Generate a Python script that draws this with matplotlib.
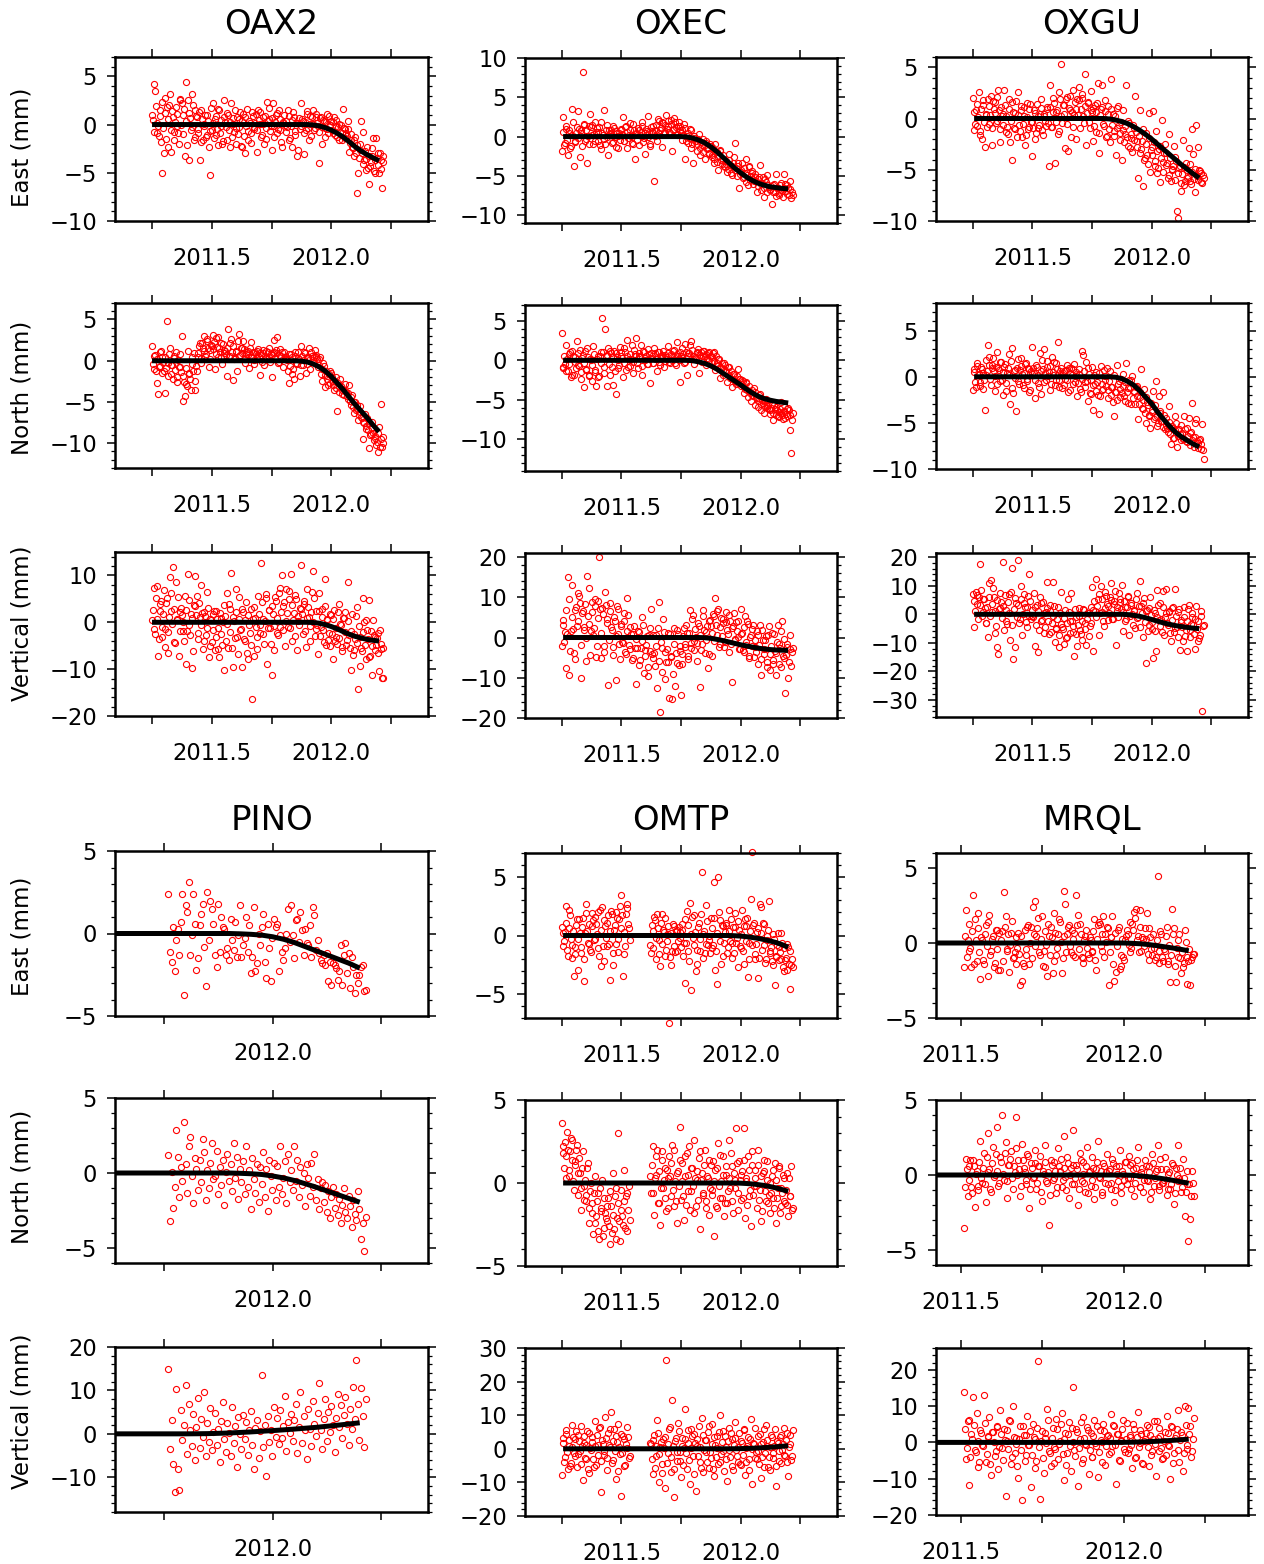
import numpy as np
import matplotlib
matplotlib.use("Agg")
import matplotlib.pyplot as plt
from matplotlib.ticker import MultipleLocator, FuncFormatter

plt.rcParams['font.family'] = ['DejaVu Sans']

nan = float("nan")

# ---------------------------------------------------------------------------
# Station time series (mm).  Epochs: first sample (decimal year) + interval.
# Each component has a primary series and a second series ("_B") sampled
# half an interval later.
# ---------------------------------------------------------------------------
STATIONS = ["OAX2", "OXEC", "OXGU", "PINO", "OMTP", "MRQL"]
COMPONENTS = ["East (mm)", "North (mm)", "Vertical (mm)"]

OAX2_T0, OAX2_DT = 2011.25, 1 / 160
OXEC_T0, OXEC_DT = 2011.25, 1 / 160
OXGU_T0, OXGU_DT = 2011.25, 1 / 160
PINO_T0, PINO_DT = 2011.76, 1 / 280
OMTP_T0, OMTP_DT = 2011.25, 1 / 160
MRQL_T0, MRQL_DT = 2011.51, 1 / 180

OAX2_EAST = [
    1.0, 4.2, 3.5, -0.9, -0.2, 1.5, -1.8, -5.0, -3.0, 2.8,
    1.8, -2.3, 3.2, -2.8, 0.8, -0.8, 1.8, -0.2, -2.0, 2.5,
    2.2, 1.0, -3.3, 4.4, 2.5, -3.7, -0.6, 3.2, -1.6, 1.5,
    0.8, -0.9, -3.7, 1.5, -1.6, 0.1, -1.3, 1.0, -2.3, -5.2,
    -0.6, 2.2, 0.6, -1.1, -2.1, 1.5, -0.2, -2.0, 2.5, 0.3,
    -1.6, 1.0, -2.3, 2.2, 0.1, -0.8, -2.0, 0.8, -0.3, 1.3,
    -2.3, 1.1, -3.0, -0.2, -1.6, 0.4, -0.9, 1.3, -0.5, 0.2,
    -2.8, 1.5, 0.1, -1.3, 0.8, -2.0, -0.4, 2.3, 0.6, -0.7,
    -2.6, 2.2, -0.2, 1.0, -0.9, 1.5, -0.6, -2.3, 0.3, -0.1,
    0.4, 1.5, -1.6, -0.2, -2.3, 0.8, -1.1, -3.3, 0.2, -0.5,
    2.2, 0.4, -3.1, -0.6, 1.1, -1.6, 0.1, 0.8, 1.5, -0.4,
    1.1, -0.2, -4.0, 0.8, -2.0, 0.4, -0.4, 1.1, -0.9, 0.0,
    0.4, -0.9, 0.8, -0.2, -1.3, 0.1, -0.8, -1.6, 1.6, -0.5,
    -0.9, 0.4, -2.8, -1.6, -2.3, -3.3, -1.3, -7.1, -5.0, -2.0,
    0.4, -0.8, -3.7, -4.7, -2.3, -6.2, -4.3, -3.3, -1.4, -5.0,
    -1.4, -3.0, -5.0, -3.7, -6.6, -3.3]
OAX2_EAST_B = [
    0.5, -0.8, 1.9, 0.2, -1.2, 0.9, 2.3, -0.4, 1.2, -1.5,
    0.6, 2.0, -0.6, 1.4, -1.6, 0.3, 1.1, -0.9, 2.6, 0.0,
    -1.0, 1.6, 0.4, -2.1, 1.2, 0.7, -0.3, 2.0, -1.3, 0.9,
    -0.5, 1.3, -1.8, 0.6, -0.2, 1.0, -1.1, 0.4, -0.7, 1.7,
    0.2, -1.4, 0.9, -0.5, 1.6, -0.9, 0.5, -1.7, 0.8, -0.3,
    1.2, -0.6, 0.3, -1.3, 0.7, 1.5, -0.4, -1.0, 0.6, -2.2,
    0.4, -1.2, 0.8, 1.6, -0.7, 0.2, -1.9, 0.9, -0.3, 1.1,
    -0.6, 0.5, 1.3, -1.1, 0.1, 0.9, -1.5, 0.4, 1.7, -0.2,
    0.7, -1.3, 0.3, 1.2, -0.5, 0.6, -1.8, 0.2, 1.0, -0.8,
    -0.3, 0.9, -1.4, 0.5, 1.3, -0.7, 0.2, -2.6, 0.7, -0.2,
    0.6, -0.9, 0.3, 1.4, -0.4, 0.9, -1.2, 0.1, -0.6, 0.8,
    0.2, -0.8, 0.7, -0.3, 0.5, -1.3, 0.3, -0.5, 0.9, -0.1,
    -0.6, 0.3, -1.1, 0.5, -0.3, -1.6, 0.0, -0.9, -0.4, -1.4,
    -1.2, -0.5, -1.9, -1.0, -2.4, -1.6, -2.9, -2.1, -3.5, -2.6,
    -3.0, -4.1, -2.7, -3.6, -4.5, -3.3, -3.9, -2.4, -4.8, -3.7,
    -3.5, -4.2, -2.9, -4.6, -3.9]
OAX2_NORTH = [
    1.8, -1.0, 0.7, -2.7, -4.0, -0.6, 1.2, 0.4, -1.3, -3.9,
    4.8, -1.8, 1.5, -0.5, -2.2, 0.6, 1.1, -2.6, -0.8, 0.8,
    3.0, -4.9, -4.3, -2.8, 1.2, -1.6, -3.6, -0.4, 0.9, -2.4,
    -1.2, 0.5, 2.2, -0.3, 1.6, 3.0, 0.8, 2.4, -0.7, 1.3,
    1.8, 3.1, -1.0, 2.7, 0.4, 1.5, 2.2, -0.4, 0.9, 1.2,
    -1.8, 3.9, 0.6, 2.6, -2.3, 0.2, 1.0, -1.2, 3.3, 0.7,
    1.6, 2.4, -0.3, 0.8, 1.2, -0.9, 2.3, 0.5, -0.4, 1.1,
    0.3, 1.4, -1.7, 0.7, 0.9, -0.5, 1.2, 0.2, 1.6, -0.2,
    -2.0, 0.9, 2.5, 1.3, 2.9, -0.1, 0.6, 1.0, -0.8, 0.4,
    0.2, -1.3, -2.7, 0.8, -1.6, -2.2, 1.1, -0.4, 0.3, -1.9,
    1.8, -0.5, 1.0, -1.5, 0.3, 1.5, -1.0, 0.6, -0.2, 1.3,
    0.5, -0.8, 0.2, -1.6, -2.5, -0.6, -3.2, -1.8, -2.9, -1.2,
    -1.5, -2.4, -3.6, -2.0, -6.1, -3.1, -2.2, -4.0, -3.4, -2.8,
    -3.8, -4.6, -3.0, -5.4, -4.2, -6.3, -5.0, -5.8, -7.2, -5.5,
    -6.8, -9.5, -7.6, -8.3, -6.9, -10.6, -9.0, -7.4, -8.8, -9.4,
    -10.2, -11.1, -8.0, -5.2, -10.5, -9.2]
OAX2_NORTH_B = [
    -0.4, 0.6, -1.2, 0.2, -0.7, 1.0, -1.5, -0.2, 0.4, -0.9,
    -0.3, 0.8, -1.6, -0.5, 0.3, -1.1, -2.0, 0.1, -0.8, -1.4,
    -1.9, -2.6, -0.9, -3.1, -1.5, -2.2, 0.4, -1.2, -3.5, -0.6,
    0.9, 1.8, 0.3, 2.1, 1.2, 0.6, 2.6, 1.5, 0.2, 1.9,
    1.4, 2.3, 0.8, 1.7, 2.9, 1.1, 0.5, 2.0, 1.3, 0.7,
    1.6, 0.4, 2.1, 1.0, 1.8, 0.3, 1.2, 2.4, 0.6, 1.5,
    0.9, 1.4, 0.2, 1.1, 0.7, 1.6, 0.4, 1.0, 0.1, 0.8,
    1.2, 0.5, 0.9, -0.2, 1.3, 0.6, 0.3, 1.0, 0.4, 0.8,
    0.7, 1.1, 0.3, 0.9, -0.3, 1.4, 0.6, 0.2, 1.0, 0.5,
    0.1, 0.8, -0.6, 0.4, -1.0, 0.6, -0.3, 1.1, 0.2, -0.5,
    0.6, 0.1, 0.9, -0.4, 0.5, 0.2, 1.0, -0.2, 0.4, 0.7,
    0.2, -0.5, 0.5, -1.0, -0.3, -1.7, -1.2, -2.2, -1.6, -2.7,
    -2.0, -2.9, -2.4, -3.3, -2.7, -3.8, -3.1, -3.5, -4.2, -3.7,
    -4.3, -3.9, -4.9, -4.4, -5.6, -5.0, -6.0, -5.4, -6.6, -6.2,
    -6.9, -7.4, -6.5, -7.9, -8.4, -7.6, -8.9, -8.2, -9.6, -9.1,
    -9.9, -8.7, -10.4, -9.5, -10.0]
OAX2_UP = [
    0.5, 7.4, -2.6, 7.8, -7.1, 2.4, 4.5, -3.2, 6.9, -1.5,
    5.2, -6.6, 9.6, 2.5, 11.8, -4.2, 8.7, 0.8, -7.3, 2.2,
    1.5, -1.8, 5.6, -8.8, 10.4, -0.6, 1.8, -9.8, 3.7, 9.8,
    5.7, -3.6, 1.2, 7.9, -5.6, 2.3, -2.8, 6.4, -7.5, 0.6,
    -4.2, 1.8, -6.0, 2.4, -1.3, -7.5, 0.9, -4.8, -10.2, 1.4,
    6.2, -5.4, 2.8, 10.6, -9.6, 0.2, 7.0, -3.1, 5.3, -1.7,
    -9.5, 2.1, -4.0, 4.4, -7.8, -0.6, 2.9, -16.3, -7.3, 1.0,
    -5.6, 5.6, -2.2, 12.7, 0.8, -4.6, 5.2, -8.8, 2.6, -1.3,
    -11.3, 1.7, -6.0, 4.6, -2.3, 6.2, -0.9, 10.0, 3.4, -5.1,
    7.1, -1.0, 4.9, 10.2, -3.9, 1.9, 5.8, -6.0, 0.3, 3.1,
    12.2, -2.5, 4.0, -5.3, 7.1, 1.2, -0.8, 6.4, 11.0, -3.0,
    2.4, -6.7, 6.2, -1.1, 2.9, -4.2, 9.3, 0.6, -3.7, -5.0,
    1.6, -7.8, 2.7, -3.1, -4.7, 3.9, -0.3, -6.2, 0.9, 2.1,
    -4.9, 8.6, -2.8, -10.1, 1.7, -6.0, -3.6, 3.2, -14.3, -9.3,
    -5.5, 5.1, 0.1, -7.8, -1.6, 4.7, -7.3, -11.3, 0.4, -3.2,
    -4.9, -2.2, -10.3, -5.8, -11.9, -11.8]
OAX2_UP_B = [
    2.6, -1.4, 5.1, 0.6, -3.5, 3.8, -0.9, 1.7, -5.2, 4.2,
    -2.0, 1.2, 6.3, -0.4, 2.9, -4.5, 0.5, 5.5, -1.8, 3.1,
    0.1, -4.0, 2.6, -1.9, 4.8, -2.7, 0.9, -6.2, 3.5, 1.6,
    -2.3, 4.1, -0.6, 2.0, -3.9, 1.3, -1.2, 3.0, -5.0, 0.4,
    -1.7, 2.5, -3.2, 0.7, -5.8, 1.9, -2.6, 0.0, 3.6, -4.1,
    -0.3, 3.9, -2.0, -5.5, 1.1, -3.4, 2.2, -6.8, 0.6, -1.5,
    2.9, -3.6, 0.4, -6.5, 1.6, -2.2, -4.9, 0.8, 3.2, -1.0,
    -3.1, 1.8, -0.5, 4.3, -2.4, 0.2, 6.0, -1.3, 2.7, -4.6,
    3.5, -0.8, 5.4, 1.0, -2.8, 7.3, 2.1, -1.6, 4.4, 0.3,
    2.0, 6.6, -1.2, 3.7, 0.5, -3.0, 4.9, 1.4, -0.6, 2.8,
    1.8, 4.5, -1.9, 0.9, 3.3, -4.0, 2.2, 0.0, 5.1, -1.4,
    -0.6, 2.5, -3.0, 1.1, -1.7, 3.4, -4.8, 0.4, -2.3, 1.7,
    -2.6, 0.8, -4.1, -1.2, 2.2, -3.3, -0.5, -5.2, 1.0, -2.0,
    -3.7, 0.3, -5.4, -1.8, -6.9, -2.6, 1.4, -4.4, -0.8, -3.1,
    -6.2, -2.1, -4.8, 0.5, -3.5, -7.4, -1.9, -5.0, -2.8, -6.0,
    -3.3, -6.5, -1.6, -4.6, -5.5]

OXEC_EAST = [
    -1.8, 2.5, -0.8, 1.0, -2.3, 0.5, -1.2, 3.5, -3.7, -0.5,
    1.2, 3.2, -2.6, 0.8, 8.2, 1.5, -0.3, -3.4, 1.4, 2.9,
    0.2, -1.0, 1.8, 0.6, -0.5, 1.2, -1.6, 0.4, 3.4, -0.9,
    1.5, -2.4, 0.3, 0.9, -0.7, 1.1, -1.3, 0.5, 0.1, -0.4,
    0.8, 2.5, -0.6, 1.4, -1.5, 0.2, 0.9, -0.8, 1.6, -2.9,
    0.3, 1.1, -1.1, 0.6, 1.9, -0.2, -2.2, 0.7, 2.6, -0.9,
    1.2, 0.4, -5.6, 1.5, -0.6, 2.0, 0.9, -1.3, 1.7, 0.5,
    2.8, 1.3, 0.6, 2.1, -1.8, 1.0, 1.8, 0.2, 1.4, 0.8,
    0.5, -0.4, 1.6, -2.9, 0.1, -0.8, 1.0, -1.5, -3.3, -0.2,
    -0.6, -1.8, 0.3, -2.3, -1.1, -0.3, -2.9, -0.8, -1.5, -2.1,
    -1.2, -2.6, -3.4, -0.9, -2.0, -4.2, -1.8, -3.0, -2.4, -3.8,
    -3.1, -4.5, -2.2, -3.6, -4.9, -3.3, -0.8, -4.0, -3.7, -6.5,
    -4.2, -3.4, -5.2, -4.6, -2.9, -6.2, -3.8, -5.0, -4.4, -5.6,
    -4.8, -7.0, -5.4, -3.6, -6.0, -5.1, -7.7, -5.8, -4.9, -6.4,
    -6.8, -8.6, -6.2, -7.1, -4.7, -6.6, -7.4, -5.9, -6.9, -4.8,
    -6.0, -7.3, -6.5, -5.6, -7.8, -7.4]
OXEC_EAST_B = [
    0.6, -1.1, 1.3, -0.4, 0.9, -1.5, 0.2, 1.8, -0.7, 0.4,
    -0.2, 1.0, 0.5, -1.2, 1.6, -0.5, 0.8, 0.1, -0.9, 1.2,
    1.5, 0.3, -0.6, 1.1, 0.6, -1.1, 1.9, 0.2, -0.3, 0.8,
    -0.1, 0.9, 0.4, -0.8, 1.3, 0.0, 0.7, -1.4, 0.5, 1.0,
    0.3, -0.5, 1.2, 0.6, -0.2, 1.7, 0.1, -1.0, 0.9, 0.4,
    -0.4, 0.8, 0.2, 1.3, -0.7, 0.5, 1.0, -0.1, 0.6, -1.2,
    0.7, 1.4, 0.1, 0.9, 2.2, 0.4, 1.1, 1.8, 0.6, 1.5,
    1.0, 2.0, 0.5, 1.6, 0.9, 2.4, 1.2, 0.3, 1.9, 1.3,
    0.9, 0.2, 1.1, -0.6, 0.4, -0.2, 0.8, -1.0, 0.1, -0.5,
    -0.9, -0.3, -1.4, -0.7, -1.9, -1.2, -0.5, -1.6, -2.2, -1.0,
    -2.3, -1.5, -2.8, -2.0, -3.2, -2.5, -1.7, -3.5, -2.9, -3.9,
    -3.5, -4.1, -3.0, -4.6, -3.8, -2.6, -4.3, -5.0, -3.3, -4.7,
    -4.5, -5.3, -4.0, -5.8, -4.9, -3.9, -5.5, -4.6, -6.0, -5.1,
    -5.6, -6.3, -5.2, -6.8, -5.9, -6.5, -5.4, -7.1, -6.1, -6.7,
    -6.3, -7.0, -6.0, -7.5, -6.6, -7.2, -6.2, -6.8, -7.7, -6.5,
    -6.9, -6.2, -7.4, -6.7, -7.1]
OXEC_NORTH = [
    3.5, -1.0, -0.5, 1.9, -1.4, 0.8, -2.1, 1.2, -1.8, 0.4,
    2.4, -0.6, 1.3, -2.3, 0.7, -3.4, -1.2, 1.6, -2.0, 0.2,
    -2.6, 1.8, -1.5, -3.2, 0.5, -2.0, 1.1, 5.3, -0.8, 4.0,
    -3.3, 1.5, -1.9, 0.9, -3.1, 1.2, -4.2, 0.4, -1.0, 1.7,
    0.6, -2.1, 1.6, -1.2, 2.6, 0.2, -0.7, 1.9, -1.6, 0.8,
    2.8, -1.0, 0.5, 2.0, -1.8, 1.1, 0.3, -0.5, 1.4, -2.9,
    0.9, -0.3, 1.5, 0.2, -1.4, 1.0, -0.6, 0.7, 1.2, -0.1,
    0.4, 1.8, -0.2, 0.8, 0.1, 1.3, -0.4, 2.3, 0.5, -2.8,
    0.6, 1.6, -0.3, 2.1, -1.9, 0.9, 1.9, 2.4, 0.2, -0.5,
    0.3, 1.0, -1.6, 0.7, -0.2, 1.2, 0.5, -0.6, 0.9, 0.1,
    0.6, -0.4, 1.1, -1.2, -0.7, 0.2, -2.2, -1.0, -1.8, -0.3,
    -1.5, -2.8, -0.9, -2.2, -3.4, -1.7, -2.6, -3.0, -1.1, -2.4,
    -3.2, -2.5, -4.1, -3.6, -2.8, -4.6, -3.9, -5.2, -4.4, -3.5,
    -5.6, -4.8, -5.9, -4.2, -6.3, -5.4, -6.6, -4.9, -5.8, -6.1,
    -6.8, -5.5, -7.6, -6.2, -5.9, -7.0, -6.5, -5.3, -6.9, -6.4,
    -7.3, -6.2, -6.0, -8.8, -11.7, -6.6]
OXEC_NORTH_B = [
    -0.8, 0.5, -1.3, 0.2, -0.5, 1.1, -1.8, 0.6, -0.2, -1.0,
    0.9, -0.7, -1.5, 0.3, -0.4, 1.2, -1.1, 0.4, -1.9, 0.1,
    -0.6, 0.8, -1.2, 0.2, -2.1, 0.6, -0.3, 1.0, -1.6, 0.5,
    0.7, -0.5, 1.2, -0.9, 0.4, -1.3, 0.9, 0.0, -0.6, 1.1,
    0.3, -0.4, 1.0, 0.6, -0.9, 0.8, 0.2, -0.2, 1.3, 0.5,
    -0.3, 0.9, 0.4, -0.7, 1.2, 0.1, 0.6, -0.5, 0.8, 0.3,
    0.5, -0.4, 0.9, 0.2, 1.1, -0.2, 0.6, 0.3, -0.8, 0.7,
    0.2, 0.9, -0.3, 0.6, 1.2, 0.4, -0.6, 0.8, 0.1, 1.0,
    0.3, 0.8, -0.2, 1.1, 0.5, 0.9, 0.2, 1.3, 0.6, 0.4,
    0.9, 1.4, 0.7, 1.1, 0.5, 1.2, 0.8, 0.3, 1.0, 0.6,
    0.4, 0.9, -0.1, 0.5, -0.4, 0.2, -0.8, -0.3, -1.2, -0.6,
    -1.4, -0.9, -1.9, -1.3, -2.3, -1.7, -2.6, -2.0, -2.9, -2.4,
    -3.0, -2.6, -3.4, -2.9, -3.8, -3.3, -4.1, -3.7, -4.5, -4.0,
    -4.7, -5.1, -4.4, -5.5, -5.0, -5.8, -5.3, -6.0, -5.6, -6.3,
    -6.0, -6.6, -5.7, -6.9, -6.3, -7.2, -6.1, -6.7, -7.4, -6.4,
    -6.8, -7.1, -6.3, -6.9, -7.5]
OXEC_UP = [
    -2.1, 4.3, 1.4, -7.6, 15.0, -9.2, 1.5, 13.0, -3.8, 6.9,
    2.9, 11.0, 8.5, -10.1, 6.5, 1.8, -5.9, 15.2, 3.4, -4.3,
    8.9, 0.6, 7.8, -4.9, 9.1, 20.0, -5.0, 7.3, -2.1, 11.3,
    4.6, -11.8, 8.6, 2.7, -2.4, 5.2, -10.6, 7.8, 0.8, -5.3,
    3.4, -1.3, 6.1, -4.0, 9.8, -1.9, 2.6, -5.6, 0.9, -2.7,
    -11.6, 1.6, -6.8, -2.5, 5.2, -8.9, -3.2, 0.4, -9.5, 2.4,
    7.2, -5.1, -3.9, 0.7, -12.5, 8.7, -18.5, -2.6, 4.6, -10.3,
    -6.1, 1.1, -15.0, -4.9, -15.2, 2.4, -12.0, -6.4, 0.8, -3.3,
    -14.4, -6.7, 2.3, -2.4, 1.1, -4.6, 6.9, -1.3, 5.6, -3.1,
    0.2, -5.9, 2.9, -12.3, -1.5, 6.9, -3.8, 1.4, -7.6, 4.1,
    2.8, -4.7, 5.3, 9.7, 0.5, 7.2, -1.6, 4.9, 3.6, -2.4,
    6.4, 1.8, -3.7, 4.1, -11.0, 2.9, -0.5, 3.8, 0.2, -2.9,
    7.2, 1.1, -3.6, 5.4, -1.8, 3.3, -5.2, 0.7, 2.1, -4.8,
    -2.4, 1.7, -6.5, 3.1, -9.3, -0.7, -4.2, 0.4, -7.3, 2.8,
    -8.0, 1.2, -6.6, -3.4, -9.3, 3.0, -1.5, -7.4, 4.2, -5.2,
    -13.9, -2.4, -10.1, 0.5, -7.2, -2.6]
OXEC_UP_B = [
    3.2, -1.0, 6.8, 0.9, 9.5, -3.4, 5.0, 2.2, -5.3, 7.7,
    4.1, 10.2, -1.8, 6.0, 2.6, 8.4, -0.2, 5.3, 12.4, 1.5,
    6.3, 2.4, 9.6, -2.2, 4.8, 7.0, 1.2, 5.9, -3.6, 8.2,
    3.7, -0.6, 6.5, 1.9, -4.4, 4.2, 0.3, 7.1, -1.7, 2.8,
    -1.1, 4.0, -3.5, 1.7, 5.6, -2.8, 0.8, -5.1, 2.9, -0.4,
    -2.6, 1.4, -5.5, -0.8, 3.1, -4.7, -1.9, -7.4, 0.6, -3.3,
    -4.0, 0.5, -7.0, -2.1, 2.3, -5.9, -1.2, -8.6, 1.3, -3.6,
    -2.9, -6.2, 0.9, -4.5, -9.1, -1.5, -3.9, 1.9, -6.8, -2.0,
    -4.2, 0.3, -1.7, 3.2, -5.3, 1.0, -2.5, 4.6, -0.8, 2.1,
    -1.4, 3.6, 0.7, -3.0, 5.3, 1.8, -0.6, 2.9, -4.1, 4.4,
    1.2, 5.8, -0.9, 3.0, 6.7, -2.3, 2.5, 0.4, 4.6, -1.1,
    3.9, 0.8, 5.5, -1.6, 2.3, 6.1, -0.4, 1.6, 4.2, -2.8,
    0.9, -3.2, 2.6, -1.0, 4.0, -4.6, 0.2, -2.2, 3.1, -0.6,
    -3.6, 0.5, -1.8, -5.4, 1.9, -2.9, -0.7, -6.2, 0.6, -4.0,
    -2.1, -5.7, 0.8, -3.8, -1.0, -6.5, -2.7, 1.6, -4.6, -0.3,
    -4.4, -1.7, -6.0, -2.9, -3.6]

OXGU_EAST = [
    2.0, -1.1, 0.8, -0.7, 2.6, -1.6, -2.0, 1.3, -2.8, 0.3,
    1.9, -0.5, 2.2, -2.6, 0.9, 1.6, -0.2, 2.8, -2.3, 1.1,
    0.4, 2.8, -1.3, -0.8, 1.9, -2.3, -4.0, 0.6, -1.0, 1.7,
    2.6, -0.6, 1.2, -1.8, 0.2, -2.6, 1.5, -1.0, 0.9, -0.3,
    -3.7, 0.8, -2.0, 1.4, -0.9, 0.4, 1.9, -1.6, 0.2, -0.7,
    1.1, -4.6, 3.3, -0.8, 2.0, -4.3, 0.6, -1.5, 2.6, 5.3,
    -0.4, 1.3, -2.9, 2.1, -3.2, 0.8, -1.8, 2.8, 0.3, -2.0,
    1.9, 3.1, -0.9, 2.4, 0.2, 4.3, -2.6, 1.5, -0.3, 2.7,
    0.6, -2.2, 1.3, -1.3, 3.5, -3.4, 0.9, 3.3, -0.7, 1.8,
    -1.7, 1.2, -2.3, 3.9, 0.4, -1.2, -3.6, 1.0, -0.6, -2.1,
    -4.0, 0.8, -1.5, 3.3, -2.7, -0.4, -1.9, -3.3, -0.9, 2.2,
    -2.2, -5.8, 0.8, -3.0, -6.6, -4.0, -1.4, -3.6, 0.5, -5.2,
    -2.8, 0.7, -4.6, -1.2, -5.3, -3.0, -6.2, -0.1, -4.2, -2.5,
    -3.4, -5.8, -1.5, -6.1, -4.9, -2.7, -3.8, -9.0, -9.7, -4.6,
    -7.1, -2.1, -6.5, -4.3, -5.8, -2.9, -6.1, -1.0, -3.5, -7.2,
    -0.6, -2.8, -5.0, -5.3, -6.3, -5.8]
OXGU_EAST_B = [
    0.6, -0.5, 1.4, 0.1, -1.2, 0.9, 1.8, -0.3, 0.4, -0.8,
    1.2, 0.3, -0.9, 1.7, 0.5, -0.4, 2.1, 0.8, -1.0, 0.2,
    -0.6, 1.3, 0.2, -1.5, 0.9, -0.2, 1.6, -0.9, 0.5, -1.8,
    0.3, -1.2, 0.8, -0.5, 1.1, -1.6, 0.1, -0.8, 1.4, -0.3,
    -0.9, 0.5, -1.4, 0.2, -0.6, 1.0, -1.1, 0.4, -0.2, 0.9,
    -0.4, 1.1, -0.8, 0.6, 1.5, -0.3, 0.8, -1.2, 1.9, 0.2,
    1.3, 0.4, 1.9, -0.5, 1.0, 2.2, 0.6, -0.8, 1.6, 0.9,
    0.3, 1.8, 0.9, 2.0, -0.4, 1.2, 0.5, 1.6, -0.9, 0.8,
    1.0, -0.7, 0.6, 1.5, -1.4, 0.3, 1.1, -0.5, 0.7, -1.8,
    0.4, -1.0, 0.9, -0.6, -1.7, 0.2, -0.9, 1.2, -1.4, -0.3,
    -1.1, -2.3, -0.7, -1.8, -0.2, -2.9, -1.5, -0.6, -2.1, -1.3,
    -2.8, -1.7, -3.4, -2.2, -1.0, -3.9, -2.5, -4.4, -1.9, -3.1,
    -3.6, -2.3, -4.1, -3.2, -4.8, -2.7, -3.9, -5.2, -3.4, -4.5,
    -4.3, -5.5, -3.9, -5.0, -4.6, -6.0, -4.1, -5.3, -4.8, -6.3,
    -5.4, -4.7, -6.1, -5.0, -5.7, -4.4, -6.4, -5.2, -5.9, -4.9,
    -5.6, -6.0, -5.1, -6.2, -5.5]
OXGU_NORTH = [
    -1.4, 0.5, -1.1, 1.2, 0.3, -0.6, 0.8, -1.3, -3.6, 0.2,
    3.4, 2.1, -0.9, 1.3, 0.6, -1.5, 2.7, 0.9, -0.5, 1.6,
    -2.0, 1.1, -1.5, 0.4, 2.5, -3.0, 3.1, -1.8, 0.7, -3.7,
    1.9, -0.8, 2.0, 0.3, -1.2, 1.4, -0.5, 0.9, -1.6, 0.6,
    3.2, 0.4, -2.3, 1.1, -0.7, 2.6, -1.9, 0.8, 3.0, -0.4,
    1.7, 0.5, -1.4, 2.1, 0.2, -0.9, 1.5, 3.8, -0.3, 0.9,
    -1.2, 0.6, -0.2, 1.3, -1.7, 0.4, 0.9, -0.8, 1.4, 0.1,
    -2.1, 0.8, -1.3, 2.8, 2.4, -0.6, 1.6, -2.6, 0.3, -1.9,
    1.1, -3.6, -0.8, 0.5, -2.0, -4.0, 1.2, -1.4, 0.7, -0.3,
    0.9, -2.3, 0.6, -1.1, -2.7, -4.2, -1.6, 1.3, -0.5, -2.2,
    -1.8, 0.3, -2.6, 1.5, -1.2, -0.4, -2.9, 0.1, -1.5, -3.0,
    -1.0, -4.6, -2.2, 0.8, -3.5, -1.3, -5.0, -2.7, -4.1, -5.6,
    -3.8, -1.5, -4.4, -0.5, -5.3, -2.1, -3.9, -4.8, -1.7, -5.7,
    -4.5, -6.0, -3.2, -7.3, -5.5, -6.6, -4.2, -7.6, -5.8, -6.2,
    -5.2, -6.8, -4.3, -7.0, -5.6, -4.5, -6.1, -2.8, -6.5, -5.0,
    -4.6, -7.2, -6.9, -7.8, -5.1, -8.9]
OXGU_NORTH_B = [
    0.8, -0.6, 1.5, 0.2, -1.0, 1.1, 0.4, -0.3, 1.8, 0.6,
    1.3, -0.2, 0.9, 2.0, 0.1, 1.1, -0.8, 0.7, 1.6, -0.4,
    0.5, 1.4, -0.7, 0.9, 0.2, 1.7, -1.2, 0.6, -0.1, 1.0,
    -0.5, 0.7, 1.2, -0.9, 0.4, 1.5, -0.2, 0.8, -1.4, 0.3,
    0.9, -0.4, 1.3, 0.2, -1.1, 0.6, 1.8, -0.6, 0.4, 1.1,
    0.1, 1.2, -0.8, 0.5, 1.6, -0.3, 0.8, -1.1, 0.6, 0.2,
    0.4, -0.9, 0.7, -0.3, 1.0, -1.4, 0.2, 0.8, -0.6, 0.5,
    -0.7, 0.3, -1.6, -0.2, 0.6, -1.1, -0.5, 0.9, -1.8, -0.4,
    -0.9, 0.2, -1.5, -0.6, 0.4, -2.1, -0.8, -1.3, 0.1, -1.0,
    -1.4, -0.5, -2.0, -1.1, 0.2, -1.7, -2.5, -0.8, -1.3, -0.2,
    -1.0, -2.1, -0.6, -1.6, -2.8, -1.2, -0.3, -2.3, -1.7, -1.1,
    -2.1, -2.9, -1.6, -3.4, -2.5, -3.9, -2.2, -3.1, -4.3, -2.8,
    -3.6, -4.6, -3.1, -4.2, -5.0, -3.7, -4.8, -5.4, -4.1, -5.2,
    -5.6, -4.9, -6.2, -5.3, -6.6, -5.8, -5.0, -6.4, -5.7, -6.9,
    -6.1, -6.8, -5.7, -7.1, -6.4, -7.4, -6.0, -6.9, -7.6, -6.5,
    -7.0, -7.7, -6.7, -7.3, -7.9]
OXGU_UP = [
    7.2, -4.3, 8.0, 3.6, 6.1, 17.5, -0.5, 5.4, 2.3, -3.0,
    -8.0, 11.0, 12.0, 0.9, 6.2, -6.5, -11.4, -14.0, 2.1, 4.3,
    18.5, -5.6, 1.5, -3.5, 7.3, -9.0, 16.3, -15.5, -11.5, 3.8,
    19.0, -2.9, 10.0, -7.2, 4.1, 2.4, -4.6, 6.3, 14.3, -1.8,
    -0.6, 7.6, -11.0, 3.3, -13.2, 6.0, -2.2, 4.2, -6.4, 0.8,
    11.2, -7.0, 3.4, -3.1, 11.4, -9.6, -5.2, 2.7, -11.3, 8.0,
    -4.4, -10.4, 1.6, -7.8, 5.2, -2.5, 7.5, -6.2, -14.5, -0.8,
    -11.0, 2.2, -5.6, -9.0, 1.8, -3.2, -10.8, 0.4, -7.5, 2.6,
    9.5, -13.0, 1.2, 12.5, 5.2, -7.4, 10.0, 0.9, -4.0, 7.8,
    3.5, -2.1, 6.2, 11.0, -1.5, 4.8, -10.7, 2.7, 7.6, 5.5,
    10.2, -6.0, 2.6, -1.8, 5.9, -7.2, 4.1, 0.2, 1.2, -4.8,
    7.5, -0.8, 11.8, 3.0, -7.9, 5.8, -17.2, 1.4, -3.6, 6.1,
    -5.1, -15.4, 0.6, -13.0, 8.6, -2.1, 3.9, -6.3, 8.3, -0.9,
    8.9, -3.8, 1.1, -9.2, 2.3, -6.1, 9.0, -4.4, 0.8, -12.5,
    -1.9, -9.4, 2.7, -5.5, -12.8, 3.1, -8.1, -1.0, -3.6, -12.2,
    2.8, -9.3, -8.4, 1.2, -34.0, -3.9]
OXGU_UP_B = [
    4.6, 1.2, 6.9, -1.8, 3.3, 8.4, 0.7, 5.5, -3.2, 2.4,
    6.0, -0.5, 3.7, 9.2, 1.1, -4.0, 5.1, 2.0, 7.4, -1.3,
    2.8, 6.6, -2.4, 4.3, 0.5, 8.0, -3.6, 1.9, 5.8, -0.9,
    3.1, -1.6, 5.4, 0.2, 7.2, -2.8, 2.4, -0.5, 4.7, 1.4,
    -0.8, 2.6, -3.9, 1.0, -5.6, 3.8, -1.9, 0.4, -4.3, 2.1,
    -2.4, 1.3, -6.1, -0.7, 3.0, -4.8, -1.5, -7.2, 0.6, -3.3,
    -5.0, -1.2, -8.3, -3.0, 0.9, -6.4, -2.2, -4.1, 1.8, -7.0,
    -3.6, -0.5, -6.8, -2.4, 1.5, -5.1, -1.7, 0.6, -4.2, -2.9,
    1.4, 4.6, -1.0, 3.0, 7.1, 0.3, 5.5, -2.5, 2.2, 6.3,
    2.9, 0.4, 5.0, -1.6, 3.6, 8.1, 1.2, -0.9, 4.4, 2.0,
    0.8, 4.7, -2.3, 2.5, 6.3, -0.6, 3.4, -3.8, 1.6, 5.2,
    -1.2, 2.8, -4.5, 0.5, 4.0, -2.7, 1.3, -5.9, 2.2, -0.4,
    -2.6, 1.5, -5.8, -0.9, 3.2, -4.0, -1.6, 2.4, -7.1, 0.3,
    -3.2, 0.9, -6.4, -1.9, 2.6, -4.7, -0.5, -8.0, 1.8, -2.8,
    -4.5, -0.8, -7.6, -2.5, 1.9, -5.6, -3.3, 0.4, -6.9, -1.6,
    -5.2, -2.2, -7.4, -0.6, -4.1]

PINO_EAST = [
    2.4, -1.1, -1.7, 0.4, -2.3, -0.4, 0.3, -1.3, 0.7, 2.4,
    -3.7, 1.7, 1.3, 3.1, -1.3, -0.1, 2.4, 0.6, -2.2, -1.5,
    0.5, 1.2, 1.8, -0.8, -3.2, 2.5, -0.4, 2.0, 1.5, 0.6,
    -1.3, -2.0, 1.8, -1.1, 1.0, 0.4, 0.3, -1.3, -0.9, -1.6,
    0.9, -0.4, -1.0, 0.7, -1.4, -0.1, 1.7, -1.4, -0.7, -0.3,
    1.0, -1.1, 0.5, -2.4, -1.4, 1.6, -2.3, -1.8, 0.0, -0.7,
    0.4, 1.2, -1.7, -2.7, 0.6, -0.9, -2.9, -0.3, 0.9, 0.4,
    0.6, -2.3, -0.1, -1.1, -1.6, -0.9, 0.0, 1.5, -0.5, 1.7,
    -0.1, -1.5, 0.8, 0.9, -0.5, 1.3, 0.2, -1.3, 0.3, -0.6,
    -0.7, 0.5, -1.4, 1.6, 1.1, -1.0, -0.4, -1.2, -1.6, -1.8,
    -1.3, -1.9, -1.2, -2.9, -1.7, -3.1, -1.8, -1.9, -2.1, -2.8,
    -2.3, -0.7, -3.1, -1.3, -0.6, -2.4, -1.2, -3.3, -1.4, -2.0,
    -3.6, -2.5, -3.0, -2.5, -2.0, -1.9, -3.5, -3.4]
PINO_NORTH = [
    1.2, -3.2, 0.1, -2.3, -0.9, 2.9, 1.1, -1.6, 0.4, -0.5,
    3.4, 0.6, -1.3, 1.8, 2.4, -0.2, -2.0, 1.0, 0.3, -1.1,
    0.9, -0.6, 2.3, 1.4, -1.8, 0.2, -1.0, 0.7, 2.0, -0.4,
    -0.2, 1.5, -1.4, 0.4, -0.8, 0.9, -2.1, 0.1, 1.3, -0.5,
    0.6, -1.2, 2.0, -0.3, 1.1, -1.7, 0.3, -0.6, 0.8, -1.4,
    1.8, -0.9, 0.2, -2.4, 1.0, -0.4, -1.3, 0.6, -1.9, 0.4,
    -0.7, 1.4, -1.6, 0.3, -2.5, 0.9, -0.2, -1.1, 0.7, -1.8,
    0.5, -0.9, 1.8, -1.4, -0.3, 0.8, -2.0, 1.3, -0.6, 0.2,
    -1.1, 1.8, -0.5, 0.9, -1.6, 0.4, -0.8, 0.0, -2.2, 0.6,
    -0.3, -1.5, 0.7, -0.9, 1.3, -1.8, -0.4, -2.4, -1.0, -0.6,
    -1.9, -0.8, -2.6, -1.2, -3.0, -1.6, -0.9, -2.3, -1.4, -2.8,
    -1.7, -3.3, -2.1, -1.0, -2.6, -3.0, -1.5, -2.2, -3.6, -1.8,
    -2.7, -3.1, -1.2, -2.4, -4.4, -3.3, -5.2, -2.9]
PINO_UP = [
    15.0, -3.5, 3.2, -7.0, -13.5, 10.3, -8.2, -13.0, 5.4, -1.5,
    2.1, 11.3, -4.6, 6.8, 0.9, -2.8, 4.5, -6.1, 1.6, 8.2,
    -3.3, 3.5, -0.8, 9.6, -5.2, 2.4, -1.9, 6.0, -3.7, 0.5,
    4.8, -2.5, 1.2, -6.4, 3.0, 7.4, -1.3, -4.2, 2.6, 0.3,
    -5.0, 6.1, -2.0, 1.7, -7.6, 3.9, 0.0, -3.4, 4.4, -1.1,
    2.8, -4.8, 0.9, 5.2, -2.6, -8.0, 1.4, 3.3, -5.6, 0.6,
    13.6, -3.0, 2.1, -9.6, 4.0, -1.8, 0.9, -5.2, 6.2, -0.7,
    3.6, -2.4, 5.5, -1.0, 1.8, 8.8, -3.9, 2.7, 0.2, 4.6,
    -1.6, 3.1, 6.9, -4.4, 1.5, 9.7, -2.2, 4.1, 0.8, -5.8,
    5.7, 1.2, -2.9, 7.6, 2.3, -0.6, 4.9, 11.8, 1.0, -3.6,
    3.4, 8.0, -1.7, 5.1, 0.4, 6.3, 2.0, -4.2, 3.7, 9.2,
    1.6, 6.6, -0.9, 4.4, 8.4, 2.2, -2.6, 5.8, 1.1, 10.8,
    3.5, 17.0, 6.8, -1.4, 10.6, 4.0, -3.0, 8.1]
PINO_EAST_B = []
PINO_NORTH_B = []
PINO_UP_B = []

OMTP_EAST = [
    0.7, -0.9, 0.3, 2.5, -1.7, 2.2, -0.3, -1.9, -3.4, -1.0,
    1.4, -2.9, 0.2, -1.5, 1.5, -3.9, 2.7, 0.4, -0.7, -1.2,
    1.9, 1.3, -0.3, 1.0, 2.0, -1.7, -2.6, 2.4, -2.2, 0.8,
    -0.9, 1.7, -3.8, 2.1, -2.5, 0.5, -0.7, 1.5, -1.4, 2.5,
    3.4, -3.4, -1.6, 1.8, 2.7, 0.6, nan, nan, nan, nan,
    nan, nan, nan, nan, nan, nan, nan, nan, nan, nan,
    -1.5, 0.4, 1.6, -2.0, 1.8, -0.4, -2.6, 1.8, 0.5, -1.7,
    -1.2, 0.1, -7.4, -2.5, -1.3, 0.8, -1.4, 0.5, -0.5, 0.3,
    -1.0, 1.0, -0.6, -4.0, 2.1, -1.3, 2.8, -4.6, -0.2, 1.7,
    -3.0, -2.4, 1.1, -1.3, 5.4, 0.1, -1.5, 2.6, -0.8, -0.4,
    1.5, -1.1, 4.5, -2.9, -4.1, 5.0, 1.3, -2.4, 0.8, -0.6,
    1.1, -1.5, 2.2, -0.5, -1.9, 0.7, 1.9, -0.6, -2.7, 0.5,
    -1.1, 2.2, -2.4, 1.4, 0.8, -3.5, -0.6, 3.1, 7.1, 1.1,
    -2.0, 0.3, -3.6, 2.7, 2.4, 1.1, -0.8, -2.0, 0.0, 2.9,
    -1.3, -2.2, 0.1, -4.2, -1.7, 0.2, -1.0, -2.0, -0.6, -3.0,
    -2.1, -2.9, -1.0, -4.5, -2.5, -2.7]
OMTP_EAST_B = [
    0.2, -0.5, 1.1, -1.2, 0.6, 1.7, -0.8, 0.4, -1.6, 0.9,
    -0.3, 1.4, -1.0, 0.7, -2.0, 0.2, 1.9, -0.6, 1.0, -1.4,
    0.8, -0.4, 1.6, 0.1, -1.1, 2.2, 0.5, -0.9, 1.3, -0.2,
    1.1, -0.7, 0.4, 1.8, -1.5, 0.9, 2.0, -0.3, 1.4, 0.6,
    1.7, 0.3, -0.9, 2.3, 1.0, -0.4, nan, nan, nan, nan,
    nan, nan, nan, nan, nan, nan, nan, nan, nan, -0.8,
    0.9, -1.1, 1.3, -0.2, 0.6, -1.6, 1.1, -0.7, 0.3, 1.5,
    -0.5, 0.8, -1.8, 0.2, 1.0, -0.9, 0.4, -1.3, 0.7, -0.2,
    0.5, -1.7, 1.4, -0.6, 0.9, -2.2, 0.1, 1.6, -0.8, 0.3,
    -1.2, 0.7, -0.3, 1.8, -1.9, 0.4, -0.7, 1.2, 0.0, -1.5,
    0.6, -0.8, 1.5, -1.3, 0.2, 2.0, -0.5, 0.9, -1.7, 0.3,
    0.9, -1.0, 0.4, 1.4, -0.6, -1.5, 0.7, -0.2, 1.2, -0.9,
    0.1, -1.3, 0.8, -0.5, 1.5, -2.0, 0.4, -0.8, 0.9, -1.6,
    -0.7, 0.6, -1.9, 0.2, -1.2, 1.0, -2.3, -0.4, 0.5, -1.5,
    -1.0, -2.5, -0.3, -1.8, -0.8, -2.1, -1.4, 0.2, -2.7, -1.1,
    -1.9, -0.7, -2.4, -1.3, -2.0]
OMTP_NORTH = [
    3.6, 1.8, 2.5, 0.3, 2.0, 0.8, 2.7, 1.4, -0.4, 1.1,
    2.3, -0.7, 0.6, -1.6, 1.9, -0.2, -1.1, 0.9, -2.4, -0.5,
    -1.2, -3.1, 0.4, -2.0, -0.6, -3.4, -1.5, 0.2, -2.7, -1.8,
    -2.3, -0.9, -3.7, -1.4, 0.6, -2.8, -0.3, -2.1, 3.0, -3.5,
    -1.6, -2.5, 0.8, -0.8, -2.9, -0.2, nan, nan, nan, nan,
    nan, nan, nan, nan, nan, nan, nan, nan, nan, nan,
    -0.6, 2.2, -1.9, 0.5, 2.0, -1.2, -2.5, 1.4, -0.3, 0.9,
    -1.7, 0.3, 1.6, -0.8, 2.3, -1.4, 0.1, -2.4, 0.7, 3.4,
    -1.0, 1.2, -2.2, 0.4, 1.8, -0.5, -1.6, 0.9, -0.2, 2.6,
    -1.4, 0.2, 1.5, -2.8, 0.6, -0.7, 2.0, -1.1, 0.3, -1.9,
    1.1, -0.4, -3.2, 0.8, -1.5, 2.4, -0.9, 0.1, 1.6, -2.0,
    0.5, -1.2, 2.6, -0.3, 1.0, -1.8, 0.2, 3.3, -0.6, 1.3,
    -1.0, 0.7, 3.3, -2.1, 0.3, 1.6, -0.8, -2.6, 1.1, -0.2,
    0.8, -1.5, 2.0, -0.4, -2.3, 0.6, 1.4, -1.1, 0.2, -0.7,
    -1.8, 0.4, -0.9, 1.2, -2.4, -0.3, 0.9, -1.4, -0.6, 0.3,
    -1.2, 0.6, -2.0, -0.8, 1.0, -1.5]
OMTP_NORTH_B = [
    2.2, 0.9, 1.6, 3.1, 0.4, 1.9, 2.6, 0.1, 1.3, 2.0,
    0.6, 1.5, -0.3, 0.9, -1.0, 0.2, -0.7, 1.2, -1.5, 0.0,
    -1.8, -0.6, -2.4, -1.1, -2.9, -0.3, -1.7, -3.2, -0.9, -2.1,
    -1.4, -2.6, -0.5, -3.0, -1.9, -0.8, -3.4, -1.2, -2.3, -0.4,
    -2.0, -1.1, -2.7, -0.6, -1.6, -2.2, nan, nan, nan, nan,
    nan, nan, nan, nan, nan, nan, nan, nan, nan, 0.4,
    1.1, -0.6, 0.3, 1.6, -1.2, 0.7, -0.3, 1.9, 0.2, -0.9,
    0.8, -1.5, 0.4, 1.2, -0.4, 2.0, -1.1, 0.6, -0.2, 1.4,
    0.1, -0.8, 1.6, -1.3, 0.5, 2.2, -0.5, 0.9, -1.8, 0.3,
    0.7, -1.0, 1.9, 0.2, -0.6, 1.1, -1.5, 0.4, 1.4, -0.3,
    -0.7, 1.3, 0.1, -1.4, 0.9, -0.2, 1.7, -0.9, 0.5, -1.2,
    1.0, -0.5, 0.3, 1.8, -1.1, 0.6, -0.3, 1.2, -1.6, 0.2,
    0.5, -0.9, 1.4, 0.1, -1.3, 0.8, -0.4, 1.9, -0.7, 0.3,
    -0.2, 1.1, -1.0, 0.4, -1.7, 0.7, -0.5, 1.3, -1.2, 0.0,
    -0.6, 0.8, -1.5, 0.2, -0.9, 1.0, -1.8, -0.3, 0.5, -1.1,
    -0.4, -1.3, 0.3, -0.8, -1.6]
OMTP_UP = [
    -7.8, 3.2, -2.4, 5.6, -6.1, 0.9, -4.3, 7.0, -1.2, 2.8,
    -5.5, 4.1, -0.6, 6.8, -9.2, 1.7, -3.0, 5.2, -7.1, 0.3,
    3.6, -2.9, 8.4, -4.8, 1.2, 6.1, -13.0, 2.5, -1.8, 9.5,
    -6.3, 4.7, 0.6, 11.0, -3.4, 5.8, -8.9, 2.1, 7.3, -1.5,
    -14.0, 3.9, -5.2, 1.4, 6.5, -2.6, nan, nan, nan, nan,
    nan, nan, nan, nan, nan, nan, nan, nan, nan, nan,
    1.5, -7.4, 4.2, -2.0, 8.7, -9.9, 0.6, -4.5, 3.0, -11.6,
    26.5, -1.3, 5.9, -6.8, 14.5, -14.2, 2.4, -3.7, 7.6, -0.9,
    -8.5, 3.3, 0.2, 11.8, -5.9, 1.8, -10.6, 6.0, -2.2, 4.5,
    -12.5, 0.8, 6.8, -3.9, 9.2, -7.0, 2.6, -1.0, 4.9, -5.6,
    -2.8, 7.4, -8.1, 1.1, 3.8, -4.4, 10.1, -1.6, 5.3, -6.7,
    0.4, -9.5, 6.2, -2.3, 2.9, -6.2, 8.0, -0.5, -3.8, 4.6,
    -4.9, 1.7, 5.5, -7.7, 0.1, 3.4, -2.9, 8.8, -10.4, 1.3,
    6.1, -3.1, -0.8, 4.3, -8.6, 2.0, -5.3, 7.2, 0.9, -2.5,
    -6.4, 3.5, -1.2, 5.8, -11.2, 1.6, -3.6, 4.0, -0.4, 6.3,
    -2.0, 4.8, -8.0, 1.5, -3.4, 5.7]
OMTP_UP_B = [
    1.6, -3.8, 4.4, -0.9, 2.7, -5.0, 0.4, 3.6, -2.2, 5.3,
    -1.5, 2.3, -4.6, 0.8, 3.9, -2.8, 1.2, -6.0, 4.8, -0.3,
    2.0, -5.3, 0.7, 4.1, -1.9, 6.5, -3.5, 1.5, -0.6, 3.2,
    -2.7, 1.0, 5.9, -4.1, 2.4, -0.8, 3.8, -6.6, 0.5, 4.5,
    -1.2, 2.9, -4.7, 0.3, 3.5, -2.0, nan, nan, nan, nan,
    nan, nan, nan, nan, nan, nan, nan, nan, nan, 1.8,
    -3.0, 2.6, -5.8, 0.9, 4.8, -1.6, 2.0, -7.2, 0.2, 3.4,
    -4.2, 1.4, 6.4, -2.5, 0.7, -6.0, 3.1, -1.1, 5.2, -3.6,
    0.9, -4.9, 2.8, -1.3, 5.6, -3.2, 0.1, 3.9, -7.4, 1.7,
    3.0, -2.1, 0.6, -5.6, 4.2, -0.4, 2.5, -3.8, 6.7, -1.0,
    1.3, -6.1, 3.5, -2.4, 0.3, 5.0, -4.0, 1.9, -0.8, 3.8,
    -3.1, 2.2, -0.5, 4.6, -5.2, 1.0, 3.2, -2.0, 0.6, -4.4,
    2.4, -1.7, 5.9, -3.8, 0.8, -6.3, 3.0, -0.2, 1.6, -2.8,
    -0.9, 3.7, -4.6, 1.5, -2.3, 6.0, -1.2, 2.5, -5.5, 0.4,
    4.1, -2.6, 0.9, -5.0, 2.2, -0.7, 3.4, -4.1, 1.3, -1.8,
    2.7, -3.9, 0.6, 4.0, -2.2]

MRQL_EAST = [
    -1.6, 2.2, 0.2, -0.5, -1.6, 3.2, 1.6, -1.2, 2.0, -2.4,
    0.2, -1.4, 1.2, -2.2, 1.9, -0.5, 0.5, -1.3, 0.9, -1.8,
    -1.8, 0.8, 3.4, 1.8, -0.4, -1.9, 0.7, -1.0, -0.6, -1.4,
    0.7, -2.8, -2.5, -1.5, -0.8, 1.1, -1.4, 1.1, 2.4, 2.8,
    0.5, 1.7, -0.8, 1.8, -0.5, -1.6, -2.2, 0.5, 1.1, -2.0,
    2.0, -0.8, 0.6, 1.4, -2.0, 3.5, 2.6, 0.6, 1.2, -0.6,
    -0.8, 0.7, 3.2, 1.9, 1.3, -0.9, -1.0, 0.5, -0.3, -1.0,
    0.2, -0.6, 1.6, -1.8, 1.2, 1.3, -0.5, 1.8, 0.6, 1.1,
    -2.8, 0.4, 1.8, -2.5, -1.9, 0.9, -1.7, -1.5, -0.9, 0.2,
    0.9, -0.1, -0.6, 1.3, 2.1, 2.3, 0.5, 2.2, -0.5, 0.3,
    1.0, 2.0, -1.1, 0.4, -0.8, -0.3, -0.9, 4.5, -1.3, 0.6,
    -1.2, -0.5, 1.1, -1.4, -2.6, 2.3, 1.0, -2.6, -0.9, 0.6,
    -2.0, -1.6, 0.9, -2.7, -1.2, -2.8, -0.9, -0.7]
MRQL_EAST_B = [
    0.5, -0.9, 1.3, -0.3, 0.8, -1.4, 0.2, 1.0, -0.6, 0.4,
    -1.1, 0.6, -0.2, 1.4, -0.8, 0.3, -1.6, 0.9, -0.4, 0.7,
    0.2, -1.2, 1.1, -0.5, 0.6, -0.1, 1.5, -0.9, 0.4, -0.3,
    -0.7, 0.5, -1.3, 0.9, -0.4, 1.2, 0.0, -1.0, 0.6, -0.2,
    1.0, -0.6, 0.3, -1.5, 0.8, -0.1, 1.3, -0.8, 0.4, -1.2,
    0.7, -0.3, 1.6, 0.1, -1.0, 0.5, -0.6, 1.1, -0.2, 0.9,
    0.3, -0.9, 1.2, -0.4, 0.6, -1.3, 0.2, 0.9, -0.7, 0.4,
    -0.5, 0.8, -1.1, 0.3, 1.4, -0.2, 0.6, -0.9, 0.1, 1.0,
    -0.6, 0.4, -1.4, 0.7, -0.2, 1.1, -0.8, 0.3, -1.1, 0.5,
    0.6, 1.4, -0.3, 0.9, 1.7, 0.2, -0.6, 1.1, 0.4, -0.2,
    0.3, -0.7, 1.0, -0.4, 0.6, -1.1, 0.2, -0.5, 0.8, -0.9,
    -0.4, 0.5, -1.2, -0.1, -0.8, 0.6, -1.5, -0.3, 0.2, -1.0,
    -0.6, -1.3, 0.1, -0.9, -0.4, -1.1, -0.7]
MRQL_NORTH = [
    -3.5, 1.1, -1.4, 0.6, -0.8, 1.0, -2.1, 0.3, -1.0, 2.3,
    -0.5, 1.5, -1.8, 2.8, 0.4, -1.1, 1.9, 0.0, 3.2, -0.7,
    1.2, 4.0, -0.3, 2.2, -1.5, 0.7, 1.6, -0.9, 0.2, 3.9,
    1.0, -1.4, 2.1, 0.5, -0.6, 1.4, -2.2, 0.8, -0.2, 1.7,
    -0.9, 0.6, 1.3, -1.7, 0.1, 2.0, -0.5, -3.3, 1.0, -0.3,
    0.9, -1.2, 1.8, 0.3, -0.8, 2.6, -0.1, 1.2, -1.5, 0.5,
    3.0, -0.6, 0.7, -2.0, 1.5, -0.4, 0.9, -1.1, 1.9, 0.2,
    -0.7, 1.2, -1.6, 0.4, 2.3, -0.2, -1.3, 0.8, -0.5, 1.4,
    0.3, -0.9, 1.1, -1.8, 0.6, -0.4, 1.7, -1.2, 0.1, 0.9,
    -0.6, 1.3, -0.2, 0.8, -1.4, 0.5, 1.9, -0.8, 0.2, -1.1,
    1.0, -0.3, 0.6, -1.6, 1.4, -0.7, 0.3, 2.0, -1.0, 0.4,
    -0.5, 1.2, -1.3, 0.1, -0.9, 0.8, -1.9, 0.5, 2.0, -0.2,
    -1.1, 1.1, -2.7, -0.6, -4.4, -2.9, 0.3, -1.4]
MRQL_NORTH_B = [
    -0.8, 0.4, -0.3, 1.0, -1.2, 0.6, 0.1, -0.7, 0.9, -0.2,
    0.5, -0.6, 1.2, 0.2, -0.9, 0.8, -0.1, 1.4, 0.3, -0.5,
    0.9, 0.1, 1.5, -0.4, 0.7, 1.1, -0.2, 0.6, 1.8, 0.0,
    0.4, -0.7, 1.0, 0.2, -0.3, 1.3, -0.9, 0.5, -0.1, 0.8,
    -0.5, 0.6, -1.1, 0.3, 0.9, -0.4, 0.2, -1.3, 0.7, -0.2,
    0.3, -0.8, 0.6, 1.1, -0.3, 0.5, -1.0, 0.8, 0.0, -0.6,
    0.7, -0.2, 0.4, -0.9, 1.0, 0.1, -0.5, 0.6, -1.2, 0.3,
    -0.3, 0.5, -0.8, 0.9, -0.1, 0.3, -1.1, 0.6, 0.2, -0.6,
    0.4, -0.5, 0.8, -1.0, 0.1, 0.6, -0.7, 0.3, -0.3, 0.9,
    -0.2, 0.7, -0.9, 0.4, -0.5, 1.0, 0.0, -0.8, 0.5, -0.3,
    0.6, -0.4, 0.2, -1.1, 0.8, -0.2, 0.4, -0.7, 1.1, -0.5,
    -0.3, 0.4, -0.9, 0.2, -0.6, 0.7, -1.2, 0.0, -0.4, 0.5,
    -0.8, -0.2, -1.1, 0.3, -0.6, -1.4, -0.5]
MRQL_UP = [
    14.0, -4.6, 5.8, -11.8, 2.3, 12.5, -2.0, 8.1, -6.7, 3.4,
    -0.8, 13.0, -5.3, 1.6, 6.9, -9.0, 2.9, -3.8, 4.6, -7.4,
    8.8, -1.5, 3.7, -14.9, 0.4, 6.2, -6.0, 10.1, -2.9, 1.3,
    -9.8, 4.5, -16.0, 2.0, -3.5, 7.4, -0.6, -12.2, 5.2, 0.9,
    -5.1, 22.5, -15.7, 3.1, -8.3, 1.1, 9.3, -2.4, -6.6, 4.0,
    -1.3, 6.5, -4.7, 0.5, 8.2, -10.4, 2.7, -3.0, 5.5, -7.9,
    15.3, -2.2, 3.8, -12.0, 1.0, -5.8, 7.0, -0.4, 4.2, -8.8,
    2.5, -4.0, 6.1, -1.1, -9.5, 3.3, 0.2, 5.0, -6.2, 1.8,
    -3.2, 7.8, -0.9, 4.4, -11.5, 2.2, -5.0, 0.6, 6.3, -2.6,
    5.4, -1.8, 1.5, -7.1, 3.6, -3.9, 8.5, -0.3, 2.4, -5.9,
    0.8, 4.8, -6.4, 2.1, -2.5, 6.0, -9.2, 1.2, 3.9, -1.6,
    -4.2, 2.8, 7.2, -0.7, -10.1, 4.3, -2.9, 1.9, 9.0, -5.3,
    3.0, -8.0, 10.0, -1.9, 9.5, 4.6, -2.4, 6.8]
MRQL_UP_B = [
    3.8, -1.6, 6.2, -4.1, 1.0, 4.9, -2.7, 0.3, -5.5, 2.6,
    -0.9, 5.4, -3.2, 1.8, -6.0, 2.9, 0.1, -2.4, 4.3, -1.2,
    2.2, -4.8, 0.6, 3.5, -1.7, 5.9, -3.9, 1.4, -0.5, -6.4,
    0.9, -2.1, 4.6, -5.1, 2.0, -0.8, 3.2, -3.6, 1.5, -7.0,
    4.1, -1.3, 0.5, -4.4, 2.7, -0.2, 6.1, -2.9, 1.1, -5.8,
    -1.8, 3.6, -0.4, 5.2, -3.3, 0.8, -6.2, 2.3, -1.0, 4.0,
    0.2, -3.8, 2.9, -1.5, 5.7, -4.6, 1.3, -0.7, 3.4, -2.2,
    -4.1, 1.7, -0.3, 4.5, -2.6, 0.6, -5.3, 3.1, -1.1, 2.0,
    1.2, -2.7, 4.9, -0.6, 2.4, -4.9, 0.4, 3.7, -1.9, 0.8,
    -3.0, 2.1, -0.8, 5.1, -4.2, 1.6, -1.4, 3.3, -5.7, 0.5,
    2.6, -1.2, 4.2, -3.5, 0.9, -0.4, 5.8, -2.3, 1.8, -4.7,
    0.3, -3.4, 2.5, -1.0, 4.4, -5.6, 1.1, 3.6, -2.0, 0.7,
    1.9, -2.8, 4.7, -0.6, 2.2, -3.9, 0.9]

# ---------------------------------------------------------------------------
# Fitted transient models (mm), given at the model start epoch followed by
# the knot epochs in MODEL_KNOTS.
# ---------------------------------------------------------------------------
MODEL_KNOTS = [2011.75, 2011.775, 2011.8, 2011.825, 2011.85, 2011.875,
               2011.9, 2011.925, 2011.95, 2011.975, 2012.0, 2012.025,
               2012.05, 2012.075, 2012.1, 2012.125, 2012.15, 2012.175,
               2012.2]
MODEL_START = {"OAX2": 2011.25, "OXEC": 2011.255, "OXGU": 2011.255,
               "PINO": 2011.637, "OMTP": 2011.255, "MRQL": 2011.424}

OAX2_EAST_MODEL = [0, 0, 0, 0, 0, 0, 0, 0, -0.05, -0.15, -0.33, -0.58, -0.9,
                   -1.3, -1.78, -2.3, -2.75, -3.12, -3.45, -3.75]
OAX2_NORTH_MODEL = [0, 0, 0, 0, 0, 0, -0.05, -0.15, -0.4, -0.75, -1.25, -1.9,
                    -2.7, -3.5, -4.4, -5.3, -6.1, -6.9, -7.8, -8.6]
OAX2_UP_MODEL = [0, 0, 0, 0, 0, 0, 0, 0, -0.05, -0.2, -0.5, -0.9, -1.4, -2.0,
                 -2.55, -3.0, -3.35, -3.65, -3.85, -4.0]
OXEC_EAST_MODEL = [0, 0, -0.05, -0.2, -0.45, -0.8, -1.3, -1.9, -2.6, -3.3,
                   -4.0, -4.6, -5.15, -5.6, -5.95, -6.2, -6.4, -6.5, -6.6,
                   -6.65]
OXEC_NORTH_MODEL = [0, 0, 0, -0.05, -0.2, -0.4, -0.7, -1.1, -1.6, -2.1, -2.6,
                    -3.1, -3.65, -4.15, -4.55, -4.85, -5.05, -5.2, -5.3, -5.4]
OXEC_UP_MODEL = [0, 0, 0, 0, 0, -0.05, -0.2, -0.45, -0.75, -1.1, -1.45, -1.8,
                 -2.1, -2.4, -2.65, -2.85, -3.0, -3.1, -3.15, -3.2]
OXGU_EAST_MODEL = [0, 0, 0, 0, -0.05, -0.15, -0.3, -0.5, -0.8, -1.15, -1.55,
                   -2.0, -2.5, -3.0, -3.5, -4.0, -4.5, -4.95, -5.4, -5.8]
OXGU_NORTH_MODEL = [0, 0, 0, 0, 0, -0.05, -0.2, -0.5, -0.9, -1.5, -2.2, -2.9,
                    -3.8, -4.6, -5.35, -6.0, -6.5, -6.9, -7.3, -7.6]
OXGU_UP_MODEL = [0, 0, 0, 0, 0, 0, 0, -0.1, -0.35, -0.7, -1.2, -1.8, -2.4,
                 -3.0, -3.5, -3.95, -4.3, -4.6, -4.85, -5.0]
PINO_EAST_MODEL = [0, 0, 0, 0, 0, 0, 0, 0, -0.02, -0.05, -0.1, -0.2, -0.35,
                   -0.55, -0.8, -1.05, -1.3, -1.55, -1.8, -2.1]
PINO_NORTH_MODEL = [0, 0, 0, 0, 0, 0, 0, 0, -0.02, -0.05, -0.1, -0.2, -0.33,
                    -0.5, -0.72, -0.95, -1.2, -1.45, -1.7, -1.95]
PINO_UP_MODEL = [0, 0, 0, 0, 0.02, 0.05, 0.12, 0.2, 0.32, 0.45, 0.6, 0.75,
                 0.92, 1.1, 1.3, 1.5, 1.75, 2.0, 2.27, 2.55]
OMTP_EAST_MODEL = [0, 0, 0, 0, 0, 0, 0, 0, 0, 0, -0.02, -0.05, -0.1, -0.17,
                   -0.25, -0.35, -0.47, -0.6, -0.78, -1.0]
OMTP_NORTH_MODEL = [0, 0, 0, 0, 0, 0, 0, 0, 0, 0, 0, -0.01, -0.03, -0.06,
                    -0.1, -0.15, -0.22, -0.3, -0.4, -0.5]
OMTP_UP_MODEL = [0, 0, 0, 0, 0, 0, 0, 0, 0, 0, 0.02, 0.05, 0.1, 0.15, 0.25,
                 0.35, 0.47, 0.6, 0.75, 0.9]
MRQL_EAST_MODEL = [0, 0, 0, 0, 0, 0, 0, 0, 0, 0, 0, 0, -0.02, -0.05, -0.1,
                   -0.17, -0.25, -0.33, -0.42, -0.52]
MRQL_NORTH_MODEL = [0, 0, 0, 0, 0, 0, 0, 0, 0, 0, 0, 0, -0.02, -0.06, -0.11,
                    -0.18, -0.26, -0.35, -0.45, -0.55]
MRQL_UP_MODEL = [0, 0, 0, 0, 0, 0, 0, 0, 0, 0, 0, 0.02, 0.05, 0.12, 0.2, 0.3,
                 0.42, 0.56, 0.72, 0.9]

# Axis ranges: x-range per station, y-range per component
XLIM = {"OAX2": (2011.095, 2012.405), "OXEC": (2011.095, 2012.405),
        "OXGU": (2011.095, 2012.405), "PINO": (2011.637, 2012.357),
        "OMTP": (2011.095, 2012.405), "MRQL": (2011.424, 2012.382)}
YLIM = {"OAX2": [(-10, 7), (-13, 7), (-20, 15)],
        "OXEC": [(-11, 10), (-14, 7), (-20, 21)],
        "OXGU": [(-10, 6), (-10, 8), (-36, 21.5)],
        "PINO": [(-5, 5), (-6, 5), (-18, 20)],
        "OMTP": [(-7, 7), (-5, 5), (-20, 30)],
        "MRQL": [(-5, 6), (-6, 5), (-20, 26)]}

SERIES = {
    "OAX2": (OAX2_T0, OAX2_DT,
             [(OAX2_EAST, OAX2_EAST_B), (OAX2_NORTH, OAX2_NORTH_B),
              (OAX2_UP, OAX2_UP_B)],
             [OAX2_EAST_MODEL, OAX2_NORTH_MODEL, OAX2_UP_MODEL]),
    "OXEC": (OXEC_T0, OXEC_DT,
             [(OXEC_EAST, OXEC_EAST_B), (OXEC_NORTH, OXEC_NORTH_B),
              (OXEC_UP, OXEC_UP_B)],
             [OXEC_EAST_MODEL, OXEC_NORTH_MODEL, OXEC_UP_MODEL]),
    "OXGU": (OXGU_T0, OXGU_DT,
             [(OXGU_EAST, OXGU_EAST_B), (OXGU_NORTH, OXGU_NORTH_B),
              (OXGU_UP, OXGU_UP_B)],
             [OXGU_EAST_MODEL, OXGU_NORTH_MODEL, OXGU_UP_MODEL]),
    "PINO": (PINO_T0, PINO_DT,
             [(PINO_EAST, PINO_EAST_B), (PINO_NORTH, PINO_NORTH_B),
              (PINO_UP, PINO_UP_B)],
             [PINO_EAST_MODEL, PINO_NORTH_MODEL, PINO_UP_MODEL]),
    "OMTP": (OMTP_T0, OMTP_DT,
             [(OMTP_EAST, OMTP_EAST_B), (OMTP_NORTH, OMTP_NORTH_B),
              (OMTP_UP, OMTP_UP_B)],
             [OMTP_EAST_MODEL, OMTP_NORTH_MODEL, OMTP_UP_MODEL]),
    "MRQL": (MRQL_T0, MRQL_DT,
             [(MRQL_EAST, MRQL_EAST_B), (MRQL_NORTH, MRQL_NORTH_B),
              (MRQL_UP, MRQL_UP_B)],
             [MRQL_EAST_MODEL, MRQL_NORTH_MODEL, MRQL_UP_MODEL]),
}

# ---------------------------------------------------------------------------
# Page layout (pixel boxes on a 1264 x 1564 canvas)
# ---------------------------------------------------------------------------
W, H = 1264, 1564
COL_X = [(115, 428), (525, 837), (936, 1248)]
ROW_Y = [
    [(57, 221), (303, 468), (552, 716), (851, 1016), (1098, 1263), (1347, 1512)],
    [(58, 223), (305, 471), (553, 718), (853, 1018), (1100, 1266), (1348, 1516)],
    [(57, 221), (303, 469), (553, 717), (853, 1018), (1100, 1265), (1348, 1515)],
]
TITLE_Y = [25, 820]
YLABEL_Y = [147, 388, 623, 936, 1177, 1411]
TICK_FS = 16.3

fig = plt.figure(figsize=(W / 100, H / 100), dpi=100)


def year_label(x, pos):
    if abs(x * 2 - round(x * 2)) < 1e-6:
        return f"{x:.1f}"
    return ""


for s, name in enumerate(STATIONS):
    group, col = divmod(s, 3)
    t0, dt, comps, models = SERIES[name]
    x0, x1 = COL_X[col]
    for c in range(3):
        row = group * 3 + c
        y0, y1 = ROW_Y[col][row]
        ax = fig.add_axes([x0 / W, 1 - y1 / H, (x1 - x0) / W, (y1 - y0) / H])
        for k, series in enumerate(comps[c]):
            vals = np.asarray(series, dtype=float)
            if vals.size == 0:
                continue
            t = t0 + dt * (k * 0.5 + np.arange(len(vals)))
            ax.plot(t, vals, linestyle="none", marker="o", ms=4.4, mfc="none",
                    mec="#ff0000", mew=0.8, zorder=2, clip_on=False)
        mt = [MODEL_START[name]] + MODEL_KNOTS
        ax.plot(mt, models[c], color="black", lw=3.6, zorder=3,
                solid_capstyle="butt", solid_joinstyle="round")

        ax.set_xlim(*XLIM[name])
        ax.set_ylim(*YLIM[name][c])
        ax.xaxis.set_major_locator(MultipleLocator(0.25))
        ax.xaxis.set_major_formatter(FuncFormatter(year_label))
        if c < 2:
            ax.yaxis.set_major_locator(MultipleLocator(5))
            ax.yaxis.set_minor_locator(MultipleLocator(1))
        else:
            ax.yaxis.set_major_locator(MultipleLocator(10))
            ax.yaxis.set_minor_locator(MultipleLocator(2))
        ax.tick_params(axis="x", which="major", direction="out", top=True,
                       bottom=True, length=6, width=1.1, labelsize=TICK_FS,
                       pad=13)
        ax.tick_params(axis="y", which="major", direction="out", left=True,
                       right=True, length=6, width=1.1, labelsize=TICK_FS,
                       pad=7)
        ax.tick_params(axis="y", which="minor", direction="out", left=True,
                       right=True, length=3, width=0.9)
        for sp in ax.spines.values():
            sp.set_linewidth(1.8)

        if col == 0:
            fig.text(22 / W, 1 - YLABEL_Y[row] / H, COMPONENTS[c],
                     rotation=90, ha="center", va="center", fontsize=16.5)
        if c == 0:
            fig.text((x0 + x1) / 2 / W, 1 - TITLE_Y[group] / H, name,
                     ha="center", va="center", fontsize=24.5)

fig.savefig("out.png", dpi=100)
